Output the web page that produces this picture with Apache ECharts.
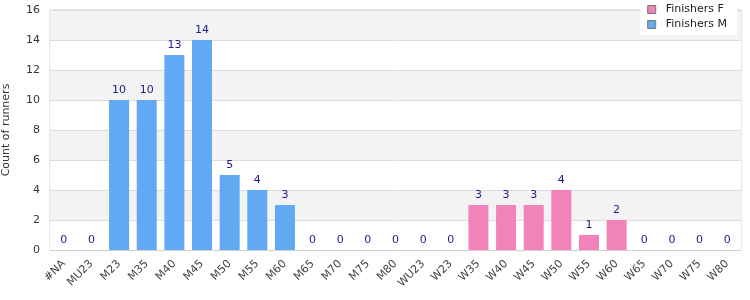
<!DOCTYPE html>
<html>
<head>
<meta charset="utf-8">
<script src="https://cdn.jsdelivr.net/npm/echarts@6/dist/echarts.min.js"></script>
<style>html,body{margin:0;padding:0;background:#fff}#c{width:750px;height:300px}</style>
</head>
<body>
<div id="c"></div>
<script>
const categories = ['#NA','MU23','M23','M35','M40','M45','M50','M55','M60','M65','M70','M75','M80','WU23','W23','W35','W40','W45','W50','W55','W60','W65','W70','W75','W80'];
const finishersF = [null,null,null,null,null,null,null,null,null,null,null,null,null,0,0,3,3,3,4,1,2,0,0,0,0];
const finishersM = [0,0,10,10,13,14,5,4,3,0,0,0,0,null,null,null,null,null,null,null,null,null,null,null,null];
const yTicks = [0,2,4,6,8,10,12,14,16];

const chart = echarts.init(document.getElementById('c'), null, {renderer:'canvas'});
const labelStyle = {show:true, position:'top', color:'#1c1c8c', fontSize:11, fontFamily:'DejaVu Sans', distance:4};
chart.setOption({
  animation:false,
  textStyle:{fontFamily:'DejaVu Sans'},
  grid:{left:50, right:9, top:10, bottom:50, show:true, borderColor:'#d0d0d0', borderWidth:1, outerBoundsMode:'none', containLabel:false},
  legend:{
    data:['Finishers F','Finishers M'],
    orient:'vertical', right:13, top:1,
    backgroundColor:'#fff', padding:[3,10,5,7],
    itemWidth:8, itemHeight:8, itemGap:4,
    icon:'rect',
    itemStyle:{borderColor:'#777', borderWidth:1},
    textStyle:{fontSize:11, color:'#222', fontFamily:'DejaVu Sans', padding:[0,0,0,5]},
    z:10
  },
  xAxis:{
    type:'category', data:categories,
    axisLine:{lineStyle:{color:'#d0d0d0'}},
    axisTick:{show:false},
    axisLabel:{rotate:45, fontSize:11, color:'#444', interval:0, margin:12}
  },
  yAxis:{
    type:'value', min:0, max:16, interval:2,
    name:'Count of runners', nameLocation:'middle', nameGap:38,
    nameTextStyle:{fontSize:11, color:'#333'},
    axisLabel:{fontSize:11, color:'#333', margin:10, formatter:v=>yTicks.includes(v)?String(v):''},
    splitLine:{lineStyle:{color:'#dcdcdc'}},
    splitArea:{show:true, areaStyle:{color:['#ffffff','#f3f3f3']}}
  },
  series:[
    {name:'Finishers F', type:'bar', stack:'a', barWidth:20, data:finishersF,
     itemStyle:{color:'#f283ba'}, label:labelStyle},
    {name:'Finishers M', type:'bar', stack:'a', barWidth:20, data:finishersM,
     itemStyle:{color:'#62a9f4'}, label:labelStyle}
  ]
});
</script>
</body>
</html>
